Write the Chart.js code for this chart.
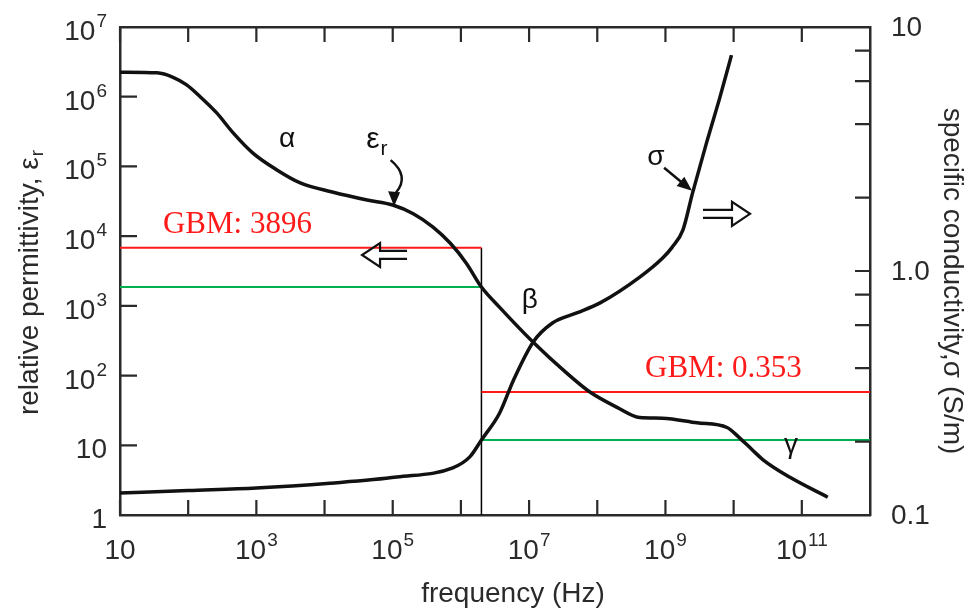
<!DOCTYPE html>
<html lang="en">
<head>
<meta charset="UTF-8">
<title>Relative permittivity and conductivity vs frequency</title>
<script src="https://cdn.jsdelivr.net/npm/chart.js"></script>
<style>
  body { margin: 0; background: #fff; }
  canvas { display: block; }
</style>
</head>
<body>
<canvas id="chart" width="966" height="612"></canvas>
<script>
// relative permittivity curve (left axis)
const epsFreq = [10, 35, 60, 95, 150, 260, 460, 890, 2000, 4400, 1.3e4, 4.2e4, 1e5, 2e5, 3.9e5, 7e5, 1.2e6, 2e6, 3.7e6,
  1.15e7, 3.5e7, 7.8e7, 1.95e8, 4.2e8, 9e8, 2.9e9, 8e9, 1.2e10, 1.9e10, 2.7e10, 6.6e10, 2.4e11];
const epsValues = [2.25e6, 2.2e6, 1.9e6, 1.48e6, 1.0e6, 5.9e5, 3.0e5, 1.55e5, 8.9e4, 5.8e4, 4.3e4, 3.3e4, 2.8e4, 2.1e4, 1.35e4, 7.9e3, 4.1e3, 1.86e3, 950,
  300, 110, 58, 35, 25, 24.5, 21, 18, 13, 8.5, 6.2, 3.5, 1.8];

// specific conductivity curve, S/m (right axis)
const sigmaFreq = [10, 100, 1e3, 1.2e4, 1.15e5, 7.6e5, 1.35e6, 2e6, 3.7e6, 5.9e6, 1.15e7, 2.2e7, 5e7, 1.1e8,
  4.2e8, 9.1e8, 1.25e9, 1.8e9, 2.5e9, 4e9, 6.3e9, 9.3e9];
const sigmaValues = [0.123, 0.126, 0.129, 0.135, 0.143, 0.156, 0.173, 0.203, 0.262, 0.357, 0.512, 0.612, 0.673, 0.74,
  0.944, 1.13, 1.25, 1.47, 2.09, 3.35, 5.16, 7.67];

// GBM reference lines
const cutFreq = 2e6;
const gbmEpsRed = 6800, gbmEpsGreen = 1860;
const gbmSigmaRed = 0.319, gbmSigmaGreen = 0.203;
const gbmEpsText = 'GBM: 3896', gbmSigmaText = 'GBM: 0.353';

// axes
const xTickExps = [1, 2, 3, 4, 5, 6, 7, 8, 9, 10, 11];
const xLabelExps = [1, 3, 5, 7, 9, 11];
const leftTickExps = [0, 1, 2, 3, 4, 5, 6, 7];
const rightTicks = [0.2, 0.4, 0.6, 0.8, 1, 2, 4, 6, 8];
const rightTickValues = [0.1, 1, 10];
const rightTickLabels = ['0.1', '1.0', '10'];

const ink = '#2a2a2a';
const font = '"Liberation Sans", Arial, sans-serif';
const serif = '"Liberation Serif", "Times New Roman", serif';

function pts(xs, ys) { return xs.map((v, i) => ({ x: v, y: ys[i] })); }

function drawPow(ctx, exp, px, py, align) {
  // draws "10" with superscript exponent (or plain labels for 1 and 10)
  let base = '10', sup = '';
  if (exp === 0) base = '1';
  else if (exp > 1) sup = String(exp);
  ctx.font = '28px ' + font;
  const wb = ctx.measureText(base).width;
  ctx.font = '19px ' + font;
  const ws = sup ? ctx.measureText(sup).width + 1 : 0;
  const w = wb + ws;
  let x0 = px;
  if (align === 'center') x0 = px - w / 2;
  else if (align === 'right') x0 = px - w;
  ctx.textAlign = 'left';
  ctx.textBaseline = 'alphabetic';
  ctx.font = '28px ' + font;
  ctx.fillText(base, x0, py);
  if (sup) {
    ctx.font = '19px ' + font;
    ctx.fillText(sup, x0 + wb + 1, py - 13);
  }
}

function hollowArrow(ctx, x0, x1, yy) {
  const dir = Math.sign(x1 - x0);
  const base = x1 - dir * 18;
  ctx.beginPath();
  ctx.moveTo(x0, yy - 4);
  ctx.lineTo(base, yy - 4);
  ctx.lineTo(base, yy - 12);
  ctx.lineTo(x1, yy);
  ctx.lineTo(base, yy + 12);
  ctx.lineTo(base, yy + 4);
  ctx.lineTo(x0, yy + 4);
  ctx.stroke();
}

const overlay = {
  id: 'overlay',
  afterDraw(chart) {
    const { ctx, chartArea: a, scales } = chart;
    const xs = scales.x, ys = scales.y, ys2 = scales.y2;
    const P = (lf, le) => [xs.getPixelForValue(10 ** lf), ys.getPixelForValue(10 ** le)];
    ctx.save();
    ctx.strokeStyle = ink;
    ctx.fillStyle = ink;
    ctx.lineWidth = 2.2;

    // inward tick marks
    ctx.beginPath();
    xTickExps.forEach(e => {
      const px = xs.getPixelForValue(10 ** e);
      ctx.moveTo(px, a.bottom); ctx.lineTo(px, a.bottom - 15);
      ctx.moveTo(px, a.top); ctx.lineTo(px, a.top + 15);
    });
    leftTickExps.forEach(e => {
      const py = ys.getPixelForValue(10 ** e);
      ctx.moveTo(a.left, py); ctx.lineTo(a.left + 17, py);
    });
    rightTicks.forEach(v => {
      const py = ys2.getPixelForValue(v);
      ctx.moveTo(a.right, py); ctx.lineTo(a.right - 15, py);
    });
    ctx.stroke();

    // tick labels
    xLabelExps.forEach(e => drawPow(ctx, e, xs.getPixelForValue(10 ** e), a.bottom + 44, 'center'));
    leftTickExps.forEach(e => drawPow(ctx, e, a.left - 13, ys.getPixelForValue(10 ** e) + 13, 'right'));
    ctx.font = '28px ' + font;
    ctx.textAlign = 'left';
    ctx.textBaseline = 'middle';
    rightTickValues.forEach((v, i) => ctx.fillText(rightTickLabels[i], a.right + 21, ys2.getPixelForValue(v) + 1));

    // axis titles
    ctx.textBaseline = 'alphabetic';
    ctx.textAlign = 'center';
    ctx.fillText('frequency (Hz)', (a.left + a.right) / 2 + 18, a.bottom + 87);

    ctx.save();
    ctx.translate(38, 283);
    ctx.rotate(-Math.PI / 2);
    ctx.font = '28px ' + font;
    const t1 = 'relative permittivity, ε';
    const w1 = ctx.measureText(t1).width;
    ctx.font = '19px ' + font;
    const w1s = ctx.measureText('r').width;
    ctx.textAlign = 'left';
    ctx.font = '28px ' + font;
    ctx.fillText(t1, -(w1 + w1s) / 2, 0);
    ctx.font = '19px ' + font;
    ctx.fillText('r', -(w1 + w1s) / 2 + w1 + 1, 5);
    ctx.restore();

    ctx.save();
    ctx.translate(944, 281);
    ctx.rotate(Math.PI / 2);
    ctx.font = '28px ' + font;
    ctx.textAlign = 'center';
    ctx.fillText('specific conductivity,σ (S/m)', 0, 0);
    ctx.restore();

    // GBM labels
    ctx.fillStyle = '#ff1a1a';
    ctx.font = '31px ' + serif;
    ctx.textAlign = 'left';
    let p = P(1.63, 4.04);
    ctx.fillText(gbmEpsText, p[0], p[1]);
    p = P(8.70, 1.98);
    ctx.fillText(gbmSigmaText, p[0], p[1]);

    // curve annotations
    ctx.fillStyle = '#111';
    ctx.strokeStyle = '#111';
    ctx.font = '28px ' + font;
    ctx.textAlign = 'center';
    ctx.textBaseline = 'middle';
    [['α', 3.45, 5.39], ['β', 7.01, 3.08], ['σ', 8.86, 5.13], ['γ', 10.84, 1.0]].forEach(([t, lf, le]) => {
      const q = P(lf, le);
      ctx.fillText(t, q[0], q[1]);
    });
    ctx.textAlign = 'left';
    ctx.textBaseline = 'alphabetic';
    p = P(4.61, 5.26);
    ctx.font = '30px ' + font;
    ctx.fillText('ε', p[0], p[1]);
    const we = ctx.measureText('ε').width;
    ctx.font = '21px ' + font;
    ctx.fillText('r', p[0] + we + 1, p[1] + 7);

    // curved arrow to the permittivity curve
    ctx.lineWidth = 2.5;
    const s0 = P(4.97, 5.09), c0 = P(5.25, 4.86), s1 = P(5.05, 4.63), tip = P(5.02, 4.43);
    ctx.beginPath();
    ctx.moveTo(s0[0], s0[1]);
    ctx.quadraticCurveTo(c0[0], c0[1], s1[0], s1[1]);
    ctx.stroke();
    ctx.beginPath();
    ctx.moveTo(tip[0], tip[1]);
    ctx.lineTo(tip[0] - 6, tip[1] - 15);
    ctx.lineTo(tip[0] + 6, tip[1] - 14);
    ctx.closePath();
    ctx.fill();

    // straight arrow to the conductivity curve
    const a0 = P(8.98, 4.98), a1 = P(9.39, 4.65);
    const ang = Math.atan2(a1[1] - a0[1], a1[0] - a0[0]);
    ctx.beginPath();
    ctx.moveTo(a0[0], a0[1]);
    ctx.lineTo(a1[0] - 10 * Math.cos(ang), a1[1] - 10 * Math.sin(ang));
    ctx.stroke();
    ctx.beginPath();
    ctx.moveTo(a1[0], a1[1]);
    ctx.lineTo(a1[0] - 15 * Math.cos(ang) + 6 * Math.sin(ang), a1[1] - 15 * Math.sin(ang) - 6 * Math.cos(ang));
    ctx.lineTo(a1[0] - 15 * Math.cos(ang) - 6 * Math.sin(ang), a1[1] - 15 * Math.sin(ang) + 6 * Math.cos(ang));
    ctx.closePath();
    ctx.fill();

    // hollow axis arrows
    ctx.lineWidth = 2.2;
    let h0 = P(5.21, 3.73), h1 = P(4.55, 3.73);
    hollowArrow(ctx, h0[0], h1[0], h0[1]);
    h0 = P(9.55, 4.32); h1 = P(10.24, 4.32);
    hollowArrow(ctx, h0[0], h1[0], h0[1]);

    ctx.restore();
  }
};

const axisBase = {
  type: 'logarithmic',
  ticks: { display: false },
  grid: { display: false, drawTicks: false },
  border: { display: true, color: ink, width: 2.5 }
};

new Chart(document.getElementById('chart'), {
  type: 'line',
  data: {
    datasets: [
      { data: pts(epsFreq, epsValues), yAxisID: 'y', borderColor: '#111', borderWidth: 3.5,
        cubicInterpolationMode: 'monotone', pointRadius: 0 },
      { data: pts(sigmaFreq, sigmaValues), yAxisID: 'y2', borderColor: '#111', borderWidth: 3.5,
        cubicInterpolationMode: 'monotone', pointRadius: 0 },
      { data: pts([10, cutFreq], [gbmEpsRed, gbmEpsRed]), yAxisID: 'y', borderColor: '#ff1a1a', borderWidth: 2, pointRadius: 0 },
      { data: pts([10, cutFreq], [gbmEpsGreen, gbmEpsGreen]), yAxisID: 'y', borderColor: '#00b050', borderWidth: 2, pointRadius: 0 },
      { data: pts([cutFreq, 1e12], [gbmSigmaRed, gbmSigmaRed]), yAxisID: 'y2', borderColor: '#ff1a1a', borderWidth: 2, pointRadius: 0 },
      { data: pts([cutFreq, 1e12], [gbmSigmaGreen, gbmSigmaGreen]), yAxisID: 'y2', borderColor: '#00b050', borderWidth: 2, pointRadius: 0 },
      { data: pts([cutFreq, cutFreq], [gbmEpsRed, 1]), yAxisID: 'y', borderColor: '#000', borderWidth: 1.5, pointRadius: 0 }
    ]
  },
  options: {
    responsive: false,
    animation: false,
    layout: { padding: { left: 120, top: 27, right: 96, bottom: 97 } },
    plugins: { legend: { display: false }, tooltip: { enabled: false } },
    scales: {
      x: { ...axisBase, position: 'bottom', min: 10, max: 1e12 },
      x2: { ...axisBase, position: 'top', min: 10, max: 1e12 },
      y: { ...axisBase, position: 'left', min: 1, max: 1e7 },
      y2: { ...axisBase, position: 'right', min: 0.1, max: 10 }
    }
  },
  plugins: [overlay]
});
</script>
</body>
</html>
